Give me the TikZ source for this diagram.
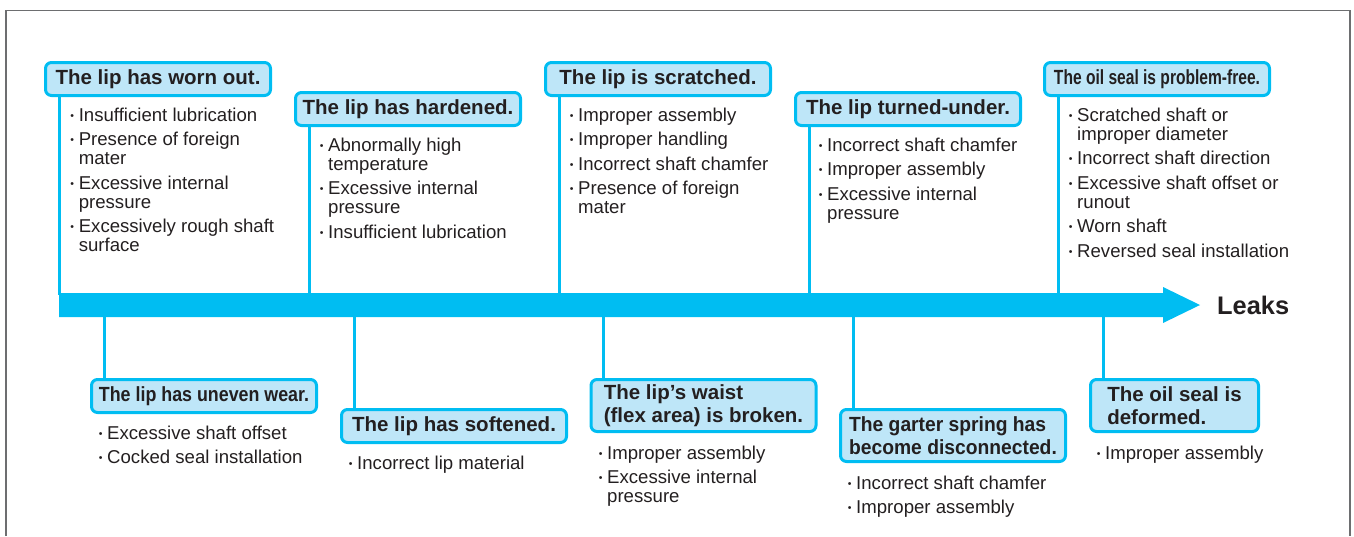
\documentclass[tikz,border=0pt]{standalone}
\usepackage{fontspec}
\setmainfont{Liberation Sans}
\usepackage{graphicx}
\definecolor{cy}{HTML}{00BDF2}
\definecolor{boxfill}{HTML}{BEE6F8}
\definecolor{ink}{HTML}{231F20}
\definecolor{framegray}{HTML}{6D6E70}
\newcommand{\bl}{\makebox[8pt][l]{\hspace*{-0.4pt}\raisebox{1.8pt}{\fontsize{10.5}{10.5}\selectfont •}}}
\newcommand{\ind}{\hspace*{8pt}}
\newcommand{\cond}[2]{\scalebox{#1}[1]{#2}}
\tikzset{
  titlebox/.style={draw=cy, line width=3pt, fill=boxfill, rounded corners=6pt,
    minimum width=225pt, minimum height=33pt, inner sep=0pt, align=left,
    text=ink, font=\fontsize{20.5}{22.5}\selectfont\bfseries},
  tallbox/.style={titlebox, minimum height=52pt},
  listtext/.style={anchor=north west, inner sep=0pt, align=left, text=ink,
    font=\fontsize{18.6}{19}\selectfont},
  conn/.style={draw=cy, line width=3pt},
}
\begin{document}
\begin{tikzpicture}[x=1pt,y=-1pt]
\useasboundingbox (0,0) rectangle (1354,536);
% frame
\draw[framegray, line width=1.2pt] (6,536) -- (6,10.5) -- (1350,10.5) -- (1350,536);
% coordinates on the bar
\coordinate (bartop) at (0,295);
\coordinate (barbot) at (0,315);
\coordinate (barL) at (59,305);
\coordinate (barR) at (1200,305);
% top title boxes
\node[titlebox] (T1) at (158,79) {The lip has worn out.};
\node[titlebox] (T2) at (408,109) {The lip has hardened.};
\node[titlebox] (T3) at (658,79) {The lip is scratched.};
\node[titlebox] (T4) at (908,109) {The lip turned-under.};
\node[titlebox] (T5) at (1157,79) {\cond{0.76}{The oil seal is problem-free.}};
% bottom title boxes
\node[titlebox] (B1) at (204,396) {\cond{0.87}{The lip has uneven wear.}};
\node[titlebox] (B2) at (454,426) {The lip has softened.};
\node[tallbox] (B3) at (703.5,405.5) {The lip’s waist\\(flex area) is broken.};
\node[tallbox] (B4) at (953,435.5) {\cond{0.94}{The garter spring has}\\\cond{0.94}{become disconnected.}};
\node[tallbox, minimum width=168pt] (B5) at (1174.5,405.5) {The oil seal is\\deformed.};
% connectors
\draw[conn] ([xshift=15pt]T1.south west) -- ([xshift=15pt]T1.south west |- bartop);
\draw[conn] ([xshift=15pt]T2.south west) -- ([xshift=15pt]T2.south west |- bartop);
\draw[conn] ([xshift=15pt]T3.south west) -- ([xshift=15pt]T3.south west |- bartop);
\draw[conn] ([xshift=15pt]T4.south west) -- ([xshift=15pt]T4.south west |- bartop);
\draw[conn] ([xshift=15pt]T5.south west) -- ([xshift=15pt]T5.south west |- bartop);
\draw[conn] ([xshift=14pt]B1.north west) -- ([xshift=14pt]B1.north west |- barbot);
\draw[conn] ([xshift=14pt]B2.north west) -- ([xshift=14pt]B2.north west |- barbot);
\draw[conn] ([xshift=14pt]B3.north west) -- ([xshift=14pt]B3.north west |- barbot);
\draw[conn] ([xshift=14pt]B4.north west) -- ([xshift=14pt]B4.north west |- barbot);
\draw[conn] ([xshift=14pt]B5.north west) -- ([xshift=14pt]B5.north west |- barbot);
% main arrow
\fill[cy] ([yshift=12pt]barL) -- (1163,293) -- (1163,287) -- (barR) -- (1163,323) -- (1163,317) -- ([yshift=-12pt]barL) -- cycle;
\node[anchor=west, inner sep=0pt, text=ink, font=\fontsize{25.4}{28}\selectfont\bfseries] (leaks) at (1217,305) {Leaks};
% top lists
\node[listtext] (L1) at (70.6,107.5) {\bl Insufficient lubrication\\[5.5pt]\bl Presence of foreign\\\ind mater\\[5.5pt]\bl Excessive internal\\\ind pressure\\[5.5pt]\bl Excessively rough shaft\\\ind surface};
\node[listtext] (L2) at (320,137.5) {\bl Abnormally high\\\ind temperature\\[5.5pt]\bl Excessive internal\\\ind pressure\\[5.5pt]\bl Insufficient lubrication};
\node[listtext] (L3) at (570,107.5) {\bl Improper assembly\\[5.5pt]\bl Improper handling\\[5.5pt]\bl Incorrect shaft chamfer\\[5.5pt]\bl Presence of foreign\\\ind mater};
\node[listtext] (L4) at (819,137.5) {\bl Incorrect shaft chamfer\\[5.5pt]\bl Improper assembly\\[5.5pt]\bl Excessive internal\\\ind pressure};
\node[listtext] (L5) at (1069,107.5) {\bl Scratched shaft or\\\ind improper diameter\\[5.5pt]\bl Incorrect shaft direction\\[5.5pt]\bl Excessive shaft offset or\\\ind runout\\[5.5pt]\bl Worn shaft\\[5.5pt]\bl Reversed seal installation};
% bottom lists
\node[listtext] (M1) at (99,425.5) {\bl Excessive shaft offset\\[5.5pt]\bl Cocked seal installation};
\node[listtext] (M2) at (349,455.5) {\bl Incorrect lip material};
\node[listtext] (M3) at (599,445.5) {\bl Improper assembly\\[5.5pt]\bl Excessive internal\\\ind pressure};
\node[listtext] (M4) at (848,475.5) {\bl Incorrect shaft chamfer\\[5.5pt]\bl Improper assembly};
\node[listtext] (M5) at (1097,445.5) {\bl Improper assembly};
\end{tikzpicture}
\end{document}
